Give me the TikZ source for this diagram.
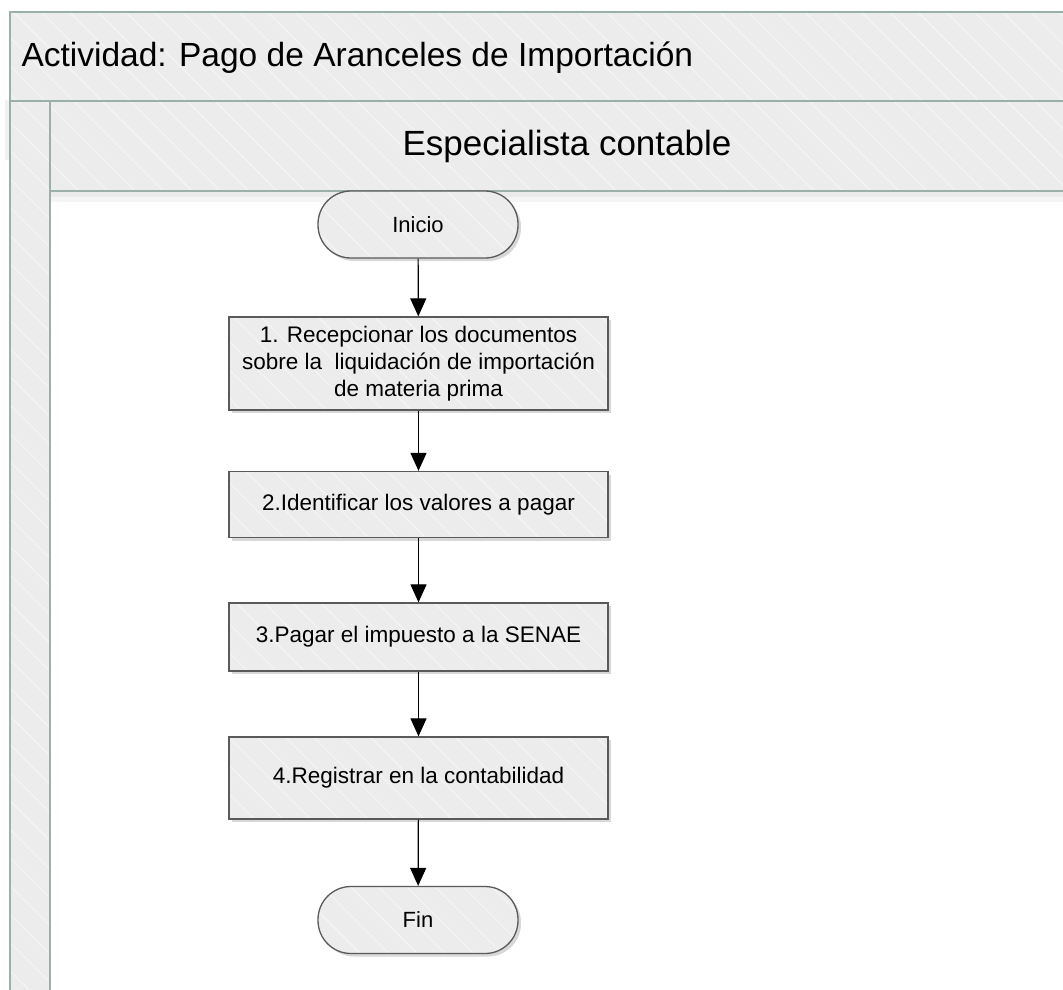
\documentclass[tikz,border=0pt]{standalone}
\usepackage{fontspec}
\setmainfont{Liberation Sans}
\usetikzlibrary{patterns.meta,shadows,arrows.meta}
\definecolor{lanefill}{HTML}{ECECEC}
\definecolor{hatch}{HTML}{F3F3F3}
\definecolor{laneline}{HTML}{9AB0A8}
\definecolor{boxline}{HTML}{5A5A5A}
\tikzset{
  hatched/.style={preaction={fill=lanefill}, preaction={pattern={Lines[angle=-45,distance=20pt,line width=1.5pt]}, pattern color=hatch}},
  lanepart/.style={hatched, draw=laneline, line width=1.6pt},
  boxshadow/.style={drop shadow={opacity=0.3, shadow xshift=3pt, shadow yshift=-3pt}},
  stepbox/.style={rectangle, boxshadow, hatched, draw=boxline, line width=1.3pt, minimum width=379pt, minimum height=66pt, align=center, font=\fontsize{22.5}{27}\selectfont, inner sep=2pt},
  termbox/.style={rectangle, rounded corners=33pt, boxshadow, hatched, draw=boxline, line width=1.3pt, minimum width=200pt, minimum height=67pt, font=\fontsize{22}{26}\selectfont},
  flow/.style={draw=black, line width=1.2pt, -{Triangle[width=16pt,length=18pt]}}
}
\begin{document}
\begin{tikzpicture}[x=1pt,y=-1pt]
\useasboundingbox (0,0) rectangle (1063,989);
\fill[white] (0,0) rectangle (1063,989);
% outer shadow hint
\fill[black, opacity=0.06] (5,100) rectangle (10,160);
% title band
\path[lanepart] (10,12) rectangle (1070,101);
\node[anchor=west, font=\fontsize{33.5}{38}\selectfont] (title) at (18,58) {Actividad: Pago de Aranceles de Importación};
% left bar
\path[lanepart] (10,101) rectangle (50,1000);
% lane header shadow
\fill[black, opacity=0.08] (50,191) rectangle (1070,197);
\fill[black, opacity=0.04] (50,197) rectangle (1070,202);
% lane header
\path[lanepart] (50,101) rectangle (1070,191);
\node[font=\fontsize{35}{40}\selectfont] (lane) at (567,146) {Especialista contable};
\draw[laneline, line width=1.6pt] (50,191) -- (50,1000);
% nodes
\node[termbox] (inicio) at (418,224.5) {Inicio};
\node[stepbox, minimum height=93pt] (s1) at (418.5,363.5) {1. Recepcionar los documentos\\sobre la\ \ liquidación de importación\\de materia prima};
\node[stepbox] (s2) at (418.5,504.5) {2.Identificar los valores a pagar};
\node[stepbox, minimum height=68pt] (s3) at (418.5,637) {3.Pagar el impuesto a la SENAE};
\node[stepbox, minimum height=82pt] (s4) at (418.5,778) {4.Registrar en la contabilidad};
\node[termbox] (fin) at (418,920) {Fin};
% connectors
\draw[flow] (inicio) -- (s1);
\draw[flow] (s1) -- (s2);
\draw[flow] (s2) -- (s3);
\draw[flow] (s3) -- (s4);
\draw[flow] (s4) -- (fin);
\end{tikzpicture}
\end{document}
